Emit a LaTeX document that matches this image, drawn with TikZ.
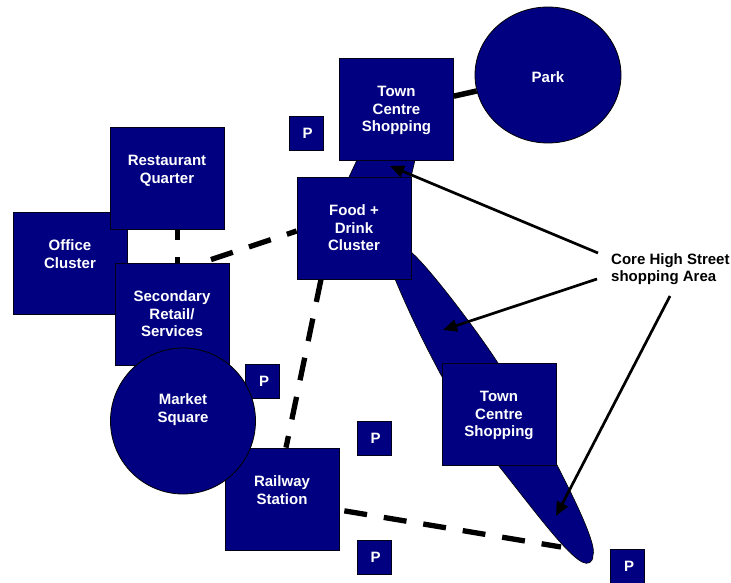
\documentclass[tikz,border=0pt]{standalone}
\usepackage{fontspec}
\setmainfont{Liberation Sans}
\usetikzlibrary{shapes.geometric,arrows.meta,backgrounds}
\definecolor{navyfill}{HTML}{000080}
\tikzset{
  x=1pt,y=-1pt,
  textbase/.style={align=center,inner sep=0pt,font=\fontsize{15}{17.5}\selectfont\bfseries},
  base/.style={textbase,fill=navyfill,draw=black!80!navyfill,line width=0.8pt,text=white},
  bigbox/.style={base,rectangle,minimum width=114pt,minimum height=102pt},
  pbox/.style={base,rectangle,minimum width=34pt,minimum height=34pt},
  blob/.style={base,ellipse,draw=black},
  blobtext/.style={textbase,text=white},
  thickline/.style={line width=5.5pt,draw=black},
  dashline/.style={line width=5.3pt,draw=black,dash pattern=on 23pt off 17pt},
  pointer/.style={line width=2.7pt,draw=black,-{Triangle[length=14pt,width=12pt]}},
}
\begin{document}
\begin{tikzpicture}
\useasboundingbox (0,0) rectangle (731,582);
\node[bigbox] (office) at (70,263) {Office\\Cluster\\~};
\node[bigbox] (restaurant) at (167,178) {Restaurant\\Quarter\\~};
\node[bigbox] (secondary) at (172,314) {Secondary\\Retail/\\Services};
\node[pbox] (p2) at (262.5,381.5) {\hspace*{3pt}P};
\node[bigbox] (railway) at (282,499) {Railway\\Station\\~};
\node[blob,minimum width=145pt,minimum height=146pt,label={[blobtext,yshift=11.5pt]center:Market\\Square}] (market) at (183,421) {};
\node[bigbox] (food) at (354,228) {Food +\\Drink\\Cluster};
\node[bigbox] (town1) at (396.5,109) {Town\\Centre\\\smash{Shopping}};
\node[blob,minimum width=146pt,minimum height=136pt,label={[blobtext,yshift=-2pt]center:Park}] (park) at (548,75) {};
\node[bigbox] (town2) at (499,414) {Town\\Centre\\\smash{Shopping}};
\node[pbox] (p1) at (306,133.5) {\hspace*{3pt}P};
\node[pbox] (p3) at (374,438.5) {\hspace*{3pt}P};
\node[pbox] (p4) at (374,557) {\hspace*{3pt}P};
\node[pbox] (p5) at (627.5,566.5) {\hspace*{3pt}P};
\node[textbase,align=left,anchor=west,text=black] (core) at (611,269) {Core High Street\\shopping Area};
\coordinate (streetend) at (561,547);
\coordinate (tail1) at (598,253);
\coordinate (tail2) at (597,279);
\coordinate (tail3) at (670,296);
\coordinate (head1) at (390,166);
\coordinate (head2) at (443,330);
\coordinate (head3) at (556,516);
\begin{scope}[on background layer]
\fill[navyfill,draw=black,line width=0.6pt] (385,120)
  .. controls (400,130) and (420,150) .. (415,160)
  -- (411,177)
  .. controls (405,200) and (400,230) .. (411,252)
  .. controls (430,268) and (480,335) .. (498,363)
  .. controls (520,400) and (545,445) .. (557,465)
  .. controls (575,500) and (597,545) .. (593,555)
  .. controls (593,563) and (588,565) .. (582,562)
  .. controls (565,553) and (530,505) .. (498,465)
  .. controls (480,435) and (460,405) .. (441,375)
  .. controls (425,345) and (410,315) .. (395,279)
  .. controls (380,245) and (345,210) .. (349,177)
  -- (357,160)
  .. controls (362,145) and (370,130) .. (385,120) -- cycle;
\draw[thickline] (town1) -- (park);
\draw[dashline,dash phase=12pt] ([xshift=10.5pt]restaurant.south) -- ([xshift=5.5pt]secondary.north);
\draw[dashline,dash phase=30.5pt] ([xshift=30pt]secondary.north) -- ([yshift=-3pt]food.west);
\draw[dashline] ([xshift=-33pt]food.south) -- ([xshift=4pt]railway.north);
\draw[dashline,dash phase=35pt] ([yshift=-11pt]railway.east) -- (streetend);
\end{scope}
\draw[pointer] (tail1) -- (head1);
\draw[pointer] (tail2) -- (head2);
\draw[pointer] (tail3) -- (head3);
\end{tikzpicture}
\end{document}
